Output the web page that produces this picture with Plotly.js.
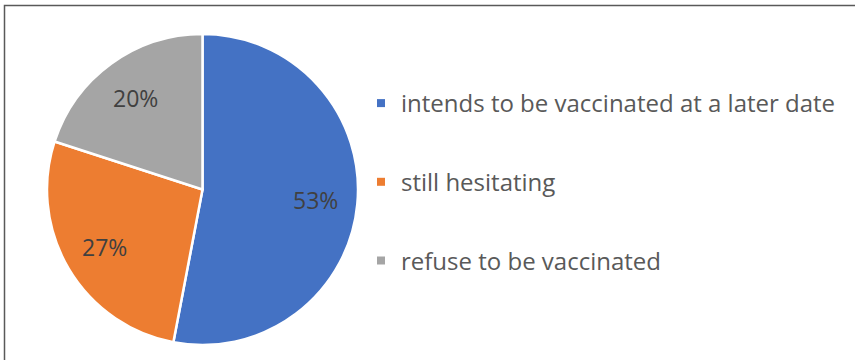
<!DOCTYPE html>
<html>
<head>
<meta charset="utf-8">
<script src="https://cdn.plot.ly/plotly-3.0.1.min.js"></script>
<style>html,body{margin:0;padding:0;background:#fff;}#chart{width:855px;height:360px;}</style>
</head>
<body>
<div id="chart"></div>
<script>
const categories = ["intends to be vaccinated at a later date", "still hesitating", "refuse to be vaccinated"];
const shares = [53, 27, 20];
const sliceColors = ["#4472C4", "#ED7D31", "#A5A5A5"];

const W = 855, H = 360;
const FONT = "'Open Sans', sans-serif";

// pie geometry (pixels), used for the domain and for label placement
const PIE = {left: 47, right: 358, top: 34, bottom: 345};
const cx = (PIE.left + PIE.right) / 2, cy = (PIE.top + PIE.bottom) / 2;
const R = (PIE.right - PIE.left) / 2;
const LABEL_R = 0.73;

const pie = {
  type: "pie",
  values: shares,
  labels: categories,
  sort: false,
  direction: "clockwise",
  rotation: 0,
  marker: {colors: sliceColors, line: {color: "#ffffff", width: 2.5}},
  textinfo: "none",
  showlegend: false,
  hoverinfo: "none",
  domain: {x: [PIE.left / W, PIE.right / W], y: [(H - PIE.bottom) / H, (H - PIE.top) / H]}
};

const legendTraces = categories.map((c, i) => ({
  type: "scatter",
  mode: "markers",
  x: [null], y: [null],
  name: c,
  legendgroup: "g" + i,
  marker: {symbol: "square", size: 8, color: sliceColors[i]},
  hoverinfo: "none",
  showlegend: true
}));

// percentage labels placed at the middle angle of each slice
const total = shares.reduce((a, b) => a + b, 0);
let cum = 0;
const labelAnnotations = shares.map(v => {
  const mid = (cum + v / 2) / total * 2 * Math.PI;
  cum += v;
  const px = cx + LABEL_R * R * Math.sin(mid);
  const py = cy - LABEL_R * R * Math.cos(mid);
  return {
    xref: "paper", yref: "paper",
    x: px / W, y: 1 - py / H,
    xanchor: "center", yanchor: "middle",
    text: Math.round(v / total * 100) + "%",
    showarrow: false,
    font: {family: FONT, size: 23, color: "#404040"}
  };
});

const layout = {
  width: W, height: H,
  margin: {l: 0, r: 0, t: 0, b: 0},
  paper_bgcolor: "#ffffff",
  plot_bgcolor: "#ffffff",
  xaxis: {visible: false},
  yaxis: {visible: false},
  showlegend: true,
  legend: {
    x: 361 / W, xanchor: "left",
    y: 1 - 81 / H, yanchor: "top",
    traceorder: "grouped",
    tracegroupgap: 44.5,
    font: {family: FONT, size: 24, color: "#595959"},
    itemclick: false, itemdoubleclick: false
  },
  annotations: labelAnnotations,
  shapes: [{
    type: "rect", xref: "paper", yref: "paper",
    x0: 4.5 / W, x1: 1.02, y0: -0.05, y1: 1 - 5.5 / H,
    line: {color: "#595959", width: 1.5}, fillcolor: "rgba(0,0,0,0)"
  }]
};

Plotly.newPlot("chart", [pie].concat(legendTraces), layout, {displayModeBar: false, staticPlot: true});
</script>
</body>
</html>
